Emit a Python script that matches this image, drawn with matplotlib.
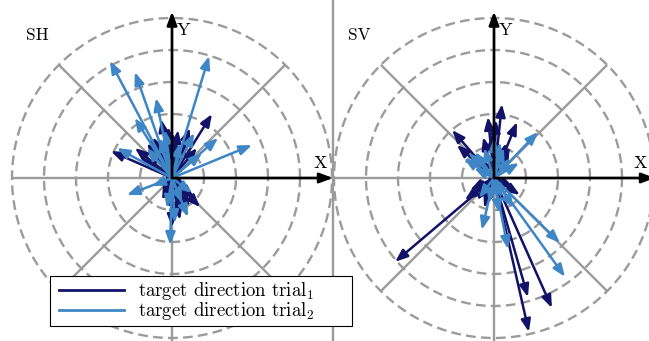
import matplotlib
matplotlib.use("Agg")
import matplotlib.pyplot as plt
import numpy as np
from matplotlib.patches import FancyArrowPatch
from matplotlib.lines import Line2D
from matplotlib.legend_handler import HandlerLine2D

plt.rcParams['font.family'] = ['cmr10', 'DejaVu Serif']
plt.rcParams['mathtext.fontset'] = 'cm'
plt.rcParams['axes.unicode_minus'] = False
plt.rcParams['lines.scale_dashes'] = False

# arrow end points (x, y) in ring units, one ring = 1
sh_trial1_x = [1.25, -1.91, -1.16, -0.34, 0.56, 0.19, -0.59, 0.88, 0.0, 0.25, 0.47,
               -0.31, -0.22, 0.03, -0.78, 0.44, 0.78, -0.94, -0.38, 0.31, -0.09,
               0.25, 0.56, 0.69, -0.31, 0.16, 0.47, -0.69, -0.12, 0.09]
sh_trial1_y = [2.0, 0.84, 0.94, 1.84, 1.56, 1.5, 1.28, -0.91, -1.53, -1.31, -1.0,
               -0.38, 1.19, 1.41, 1.09, 1.16, 0.94, 0.62, 0.78, 0.88, -0.94,
               -1.19, -0.88, -0.62, -0.69, -0.78, -0.38, 1.25, 1.6, 1.0]
sh_trial2_x = [-1.94, -1.16, 1.16, -0.5, -1.16, -1.72, 2.5, 1.44, -1.41, -0.06, 0.5,
               0.69, -0.38, 0.25, -0.78, 0.94, -0.16, 0.31, 0.62, -0.62, 0.09, -0.22]
sh_trial2_y = [3.66, 3.31, 3.81, 2.5, 1.88, 0.94, 1.03, 1.25, -0.53, -2.09, -1.22,
               1.41, 1.25, 1.09, 0.94, 0.78, -0.94, -0.78, -0.47, -0.25, -1.41, 1.5]

sv_trial1_x = [-3.09, 1.09, 1.06, 1.81, 0.25, -0.19, 0.06, 0.72, -1.31, -1.16,
               -0.34, -0.75, -0.53, 0.81, -0.91, -0.31, 0.31, -0.47, 0.16, 0.47,
               -0.62, 0.62, -0.16, 0.38, -0.06, 0.5]
sv_trial1_y = [-2.62, -4.81, -3.72, -4.06, 2.31, 1.91, 1.81, 1.75, 1.5, 1.03,
               1.28, -0.38, -0.69, -0.53, -0.69, -0.94, -0.47, 0.62, 0.94, 0.78,
               -0.47, -0.31, -0.47, 1.09, 1.41, 0.97]
sv_trial2_x = [2.22, 2.06, -0.38, 0.44, 1.38, -0.78, -0.94, 0.0, 0.31, -0.31, 0.5,
               -0.16, 0.16, 0.62, -0.47, 0.25, 0.78, -0.62, -0.59, 0.19]
sv_trial2_y = [-3.09, -2.03, -1.62, -2.22, 1.44, 0.78, 0.62, 1.25, 0.94, 0.94, 0.62,
               -0.78, -1.09, -0.94, -0.62, -0.62, 0.47, 0.31, 0.81, 1.12]

ring_radii = [1, 2, 3, 4, 5]

navy = '#121268'
lightblue = '#3f86c6'
gray = '#9b9b9b'

PX = 32.0  # pixels per ring unit
cx_left, cx_right, cy = 172, 494, 178
W, H = 649, 341


def draw_frame(ax, label, x_lab):
    t = np.linspace(0, 2 * np.pi, 720)
    for r in ring_radii:
        ax.plot(r * np.cos(t), r * np.sin(t), color=gray, lw=1.7,
                dashes=[7.0, 3.8], zorder=1)
    for a in np.arange(0, 360, 45):
        ang = np.deg2rad(a)
        ln = 5.0 if a != 270 else 6.0
        ax.plot([0, ln * np.cos(ang)], [0, ln * np.sin(ang)], color=gray,
                lw=1.7, zorder=1, solid_capstyle='butt')
    style = '-|>,head_length=0.8,head_width=0.3'
    ax.add_patch(FancyArrowPatch((0, 0), (5.03, 0), arrowstyle=style,
                                 mutation_scale=10, color='black', lw=1.9,
                                 shrinkA=0, shrinkB=0, zorder=4))
    ax.add_patch(FancyArrowPatch((0, 0), (0, 5.2), arrowstyle=style,
                                 mutation_scale=10, color='black', lw=1.9,
                                 shrinkA=0, shrinkB=0, zorder=4))
    ax.text(x_lab, 0.45, 'X', fontsize=13, ha='center', va='center', zorder=5)
    ax.text(0.36, 4.6, 'Y', fontsize=13, ha='center', va='center', zorder=5)
    ax.text(-4.2, 4.47, label, fontsize=12.5, ha='center', va='center')


def draw_arrows(ax, xs, ys, color, z):
    for x, y in zip(xs, ys):
        ax.add_patch(FancyArrowPatch((0, 0), (x, y),
                                     arrowstyle='-|>,head_length=0.62,head_width=0.24',
                                     mutation_scale=12, color=color, lw=1.8,
                                     shrinkA=0, shrinkB=0, zorder=z))


fig = plt.figure(figsize=(W / 100, H / 100), dpi=100)

split = 333
ax1 = fig.add_axes([0, 0, split / W, 1])
ax1.set_xlim(-cx_left / PX, (split - cx_left) / PX)
ax1.set_ylim(-(H - cy) / PX, cy / PX)
ax2 = fig.add_axes([split / W, 0, (W - split) / W, 1])
ax2.set_xlim((split - cx_right) / PX, (W - cx_right) / PX)
ax2.set_ylim(-(H - cy) / PX, cy / PX)
for ax in (ax1, ax2):
    ax.set_axis_off()

draw_frame(ax1, 'SH', 4.62)
draw_frame(ax2, 'SV', 4.58)
draw_arrows(ax1, sh_trial1_x, sh_trial1_y, navy, 2)
draw_arrows(ax1, sh_trial2_x, sh_trial2_y, lightblue, 3)
draw_arrows(ax2, sv_trial1_x, sv_trial1_y, navy, 2)
draw_arrows(ax2, sv_trial2_x, sv_trial2_y, lightblue, 3)

# divider between the two panels
fig.add_artist(Line2D([split / W, split / W], [0, 1], color=gray, lw=1.7))

h1 = Line2D([], [], color=navy, lw=2.0)
h2 = Line2D([], [], color=lightblue, lw=2.0)
leg = fig.legend([h1, h2], [r'target direction trial$_1$', r'target direction trial$_2$'],
                 loc='upper left', bbox_to_anchor=(50 / W, 1 - 276 / H, 302 / W, 0),
                 mode='expand', fontsize=13.5, frameon=True, fancybox=False,
                 framealpha=1, edgecolor='black', handlelength=3.7,
                 borderaxespad=0, labelspacing=-0.1, borderpad=0.22,
                 handletextpad=0.8,
                 handler_map={h1: HandlerLine2D(xpad=0.25), h2: HandlerLine2D(xpad=0.25)})
leg.get_frame().set_linewidth(0.8)

fig.savefig('out.png', dpi=100)
